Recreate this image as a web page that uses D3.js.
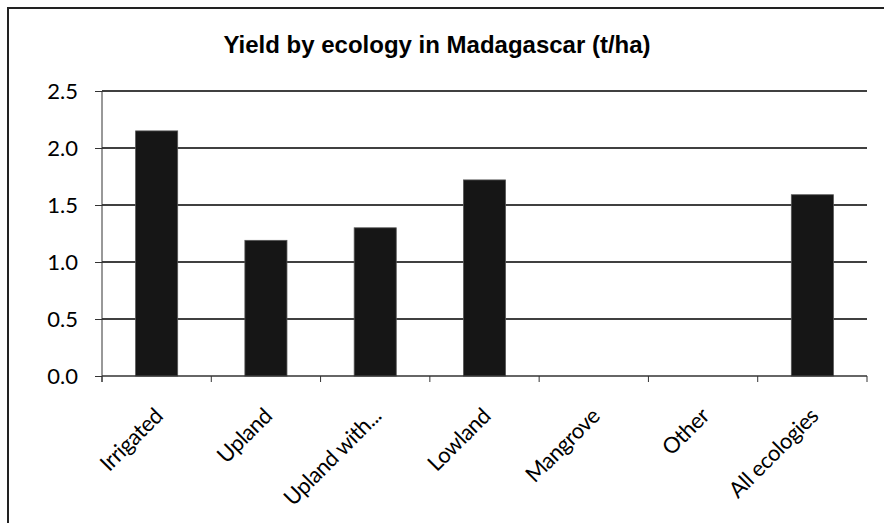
<!doctype html>
<html lang="en">
  <head>
    <meta charset="utf-8">
    <title>Yield by ecology in Madagascar</title>
    <script src="https://cdn.jsdelivr.net/npm/d3@7/dist/d3.min.js"></script>
    <style>
      body { margin: 0; background: #fff; }
      text { font-family: Lato, "Open Sans", sans-serif; fill: #000; }
    </style>
  </head>
  <body>
    <svg width="884" height="523"></svg>
    <script>
      var categories = ['Irrigated', 'Upland', 'Upland with...', 'Lowland', 'Mangrove', 'Other', 'All ecologies'];
      var yields = [2.15, 1.19, 1.30, 1.72, null, null, 1.59];
      var yTicks = [0, 0.5, 1.0, 1.5, 2.0, 2.5];

      var svg = d3.select('svg');

      // outer frame
      svg.append('rect')
        .attr('x', 8).attr('y', 8)
        .attr('width', 884).attr('height', 523)
        .attr('fill', 'none')
        .attr('stroke', '#222')
        .attr('stroke-width', 2);

      svg.append('text')
        .attr('x', 437).attr('y', 53)
        .attr('text-anchor', 'middle')
        .style('font-family', '"Liberation Sans", Arial, sans-serif')
        .style('font-weight', 'bold')
        .style('font-size', '24px')
        .text('Yield by ecology in Madagascar (t/ha)');

      var plotL = 102, plotR = 867, plotT = 91, plotB = 376;

      var x = d3.scaleBand().domain(categories).range([plotL, plotR]).padding(0);
      var y = d3.scaleLinear().domain([0, 2.5]).range([plotB, plotT]);

      // gridlines
      svg.append('g').selectAll('line').data(yTicks.slice(1)).enter()
        .append('line')
          .attr('x1', plotL).attr('x2', plotR)
          .attr('y1', function(d){ return y(d); })
          .attr('y2', function(d){ return y(d); })
          .attr('stroke', '#000')
          .attr('stroke-width', 1.3);

      // bars
      var bw = x.bandwidth() * 0.385;
      svg.append('g').selectAll('rect')
        .data(categories.map(function(c, i){ return {c: c, v: yields[i]}; }).filter(function(d){ return d.v != null; }))
        .enter()
        .append('rect')
          .attr('x', function(d){ return x(d.c) + (x.bandwidth() - bw) / 2; })
          .attr('y', function(d){ return y(d.v); })
          .attr('width', bw)
          .attr('height', function(d){ return plotB - y(d.v); })
          .attr('fill', '#161616')
          .attr('stroke', '#555')
          .attr('stroke-width', 0.8);

      // y axis
      var yAxis = svg.append('g')
        .attr('transform', 'translate(' + plotL + ',0)')
        .call(d3.axisLeft(y).tickValues(yTicks).tickFormat(d3.format('.1f')).tickSize(7).tickPadding(17));
      yAxis.select('.domain').attr('stroke', '#333').attr('d', 'M0,' + plotT + 'V' + (plotB + 6));
      yAxis.selectAll('line').attr('stroke', '#333');
      yAxis.selectAll('text').style('font-size', '22px').style('font-family', 'Lato, sans-serif');

      // x axis with ticks at band boundaries
      var xa = svg.append('g').attr('transform', 'translate(0,' + plotB + ')');
      xa.append('line').attr('x1', plotL).attr('x2', plotR).attr('stroke', '#333').attr('stroke-width', 1.3);
      xa.selectAll('.tk').data(categories.concat([null])).enter()
        .append('line')
          .attr('class', 'tk')
          .attr('x1', function(d, i){ return plotL + i * x.step(); })
          .attr('x2', function(d, i){ return plotL + i * x.step(); })
          .attr('y1', 0).attr('y2', 6)
          .attr('stroke', '#333');
      xa.selectAll('text').data(categories).enter()
        .append('text')
          .attr('text-anchor', 'end')
          .attr('dy', '0.35em')
          .attr('transform', function(d){
            return 'translate(' + (x(d) + x.bandwidth() / 2 + 2) + ',36) rotate(-45)';
          })
          .style('font-size', '22px')
          .style('letter-spacing', '-0.4px')
          .text(function(d){ return d; });
    </script>
  </body>
</html>
